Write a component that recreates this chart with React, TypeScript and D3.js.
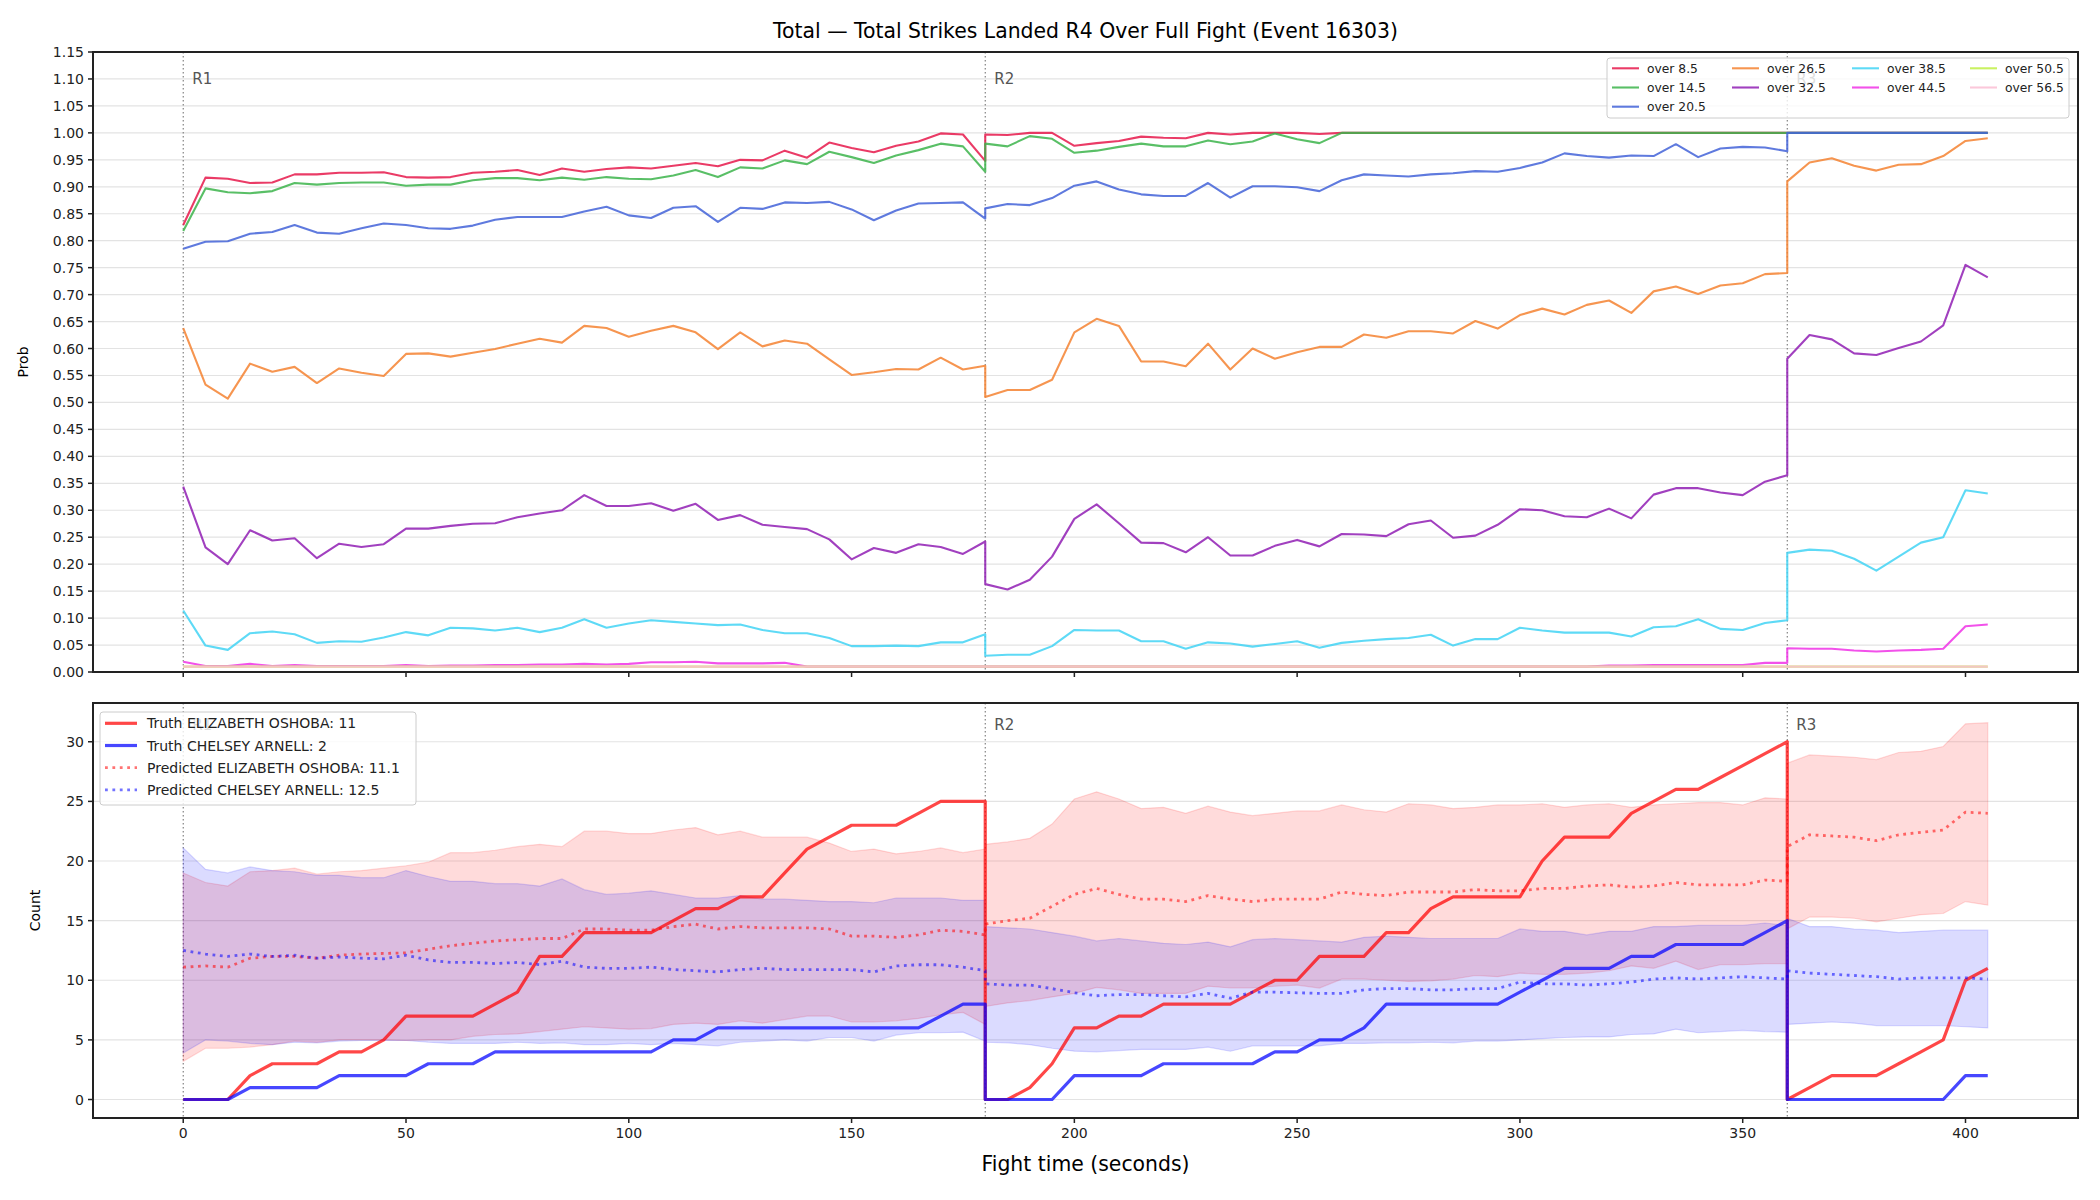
import React, { useEffect, useRef } from "react";
import * as d3 from "d3";

const WIDTH = 2100;
const HEIGHT = 1200;
const FONT = "DejaVu Sans, Verdana, sans-serif";

// rounds are sampled every 5 s; the boundary second appears in both rounds
const ROUNDS = [
  { label: "R1", start: 0, end: 180 },
  { label: "R2", start: 180, end: 360 },
  { label: "R3", start: 360, end: 405 },
];
const STEP = 5;

const xTicks = [0, 50, 100, 150, 200, 250, 300, 350, 400];
const probTicks = [
  0, 0.05, 0.1, 0.15, 0.2, 0.25, 0.3, 0.35, 0.4, 0.45, 0.5, 0.55, 0.6, 0.65,
  0.7, 0.75, 0.8, 0.85, 0.9, 0.95, 1.0, 1.05, 1.1, 1.15,
];
const countTicks = [0, 5, 10, 15, 20, 25, 30];

// over/under probabilities, one array per round
const over8_5 = [
  [0.829, 0.917, 0.915, 0.907, 0.908, 0.923, 0.923, 0.926, 0.926, 0.927, 0.918, 0.917, 0.918, 0.926, 0.928, 0.931, 0.922, 0.934, 0.928, 0.933, 0.936, 0.934, 0.939, 0.944, 0.938, 0.95, 0.949, 0.967, 0.954, 0.982, 0.972, 0.964, 0.976, 0.984, 0.999, 0.997, 0.948],
  [0.997, 0.996, 1.0, 1.0, 0.976, 0.981, 0.985, 0.993, 0.991, 0.99, 1.0, 0.997, 1.0, 1.0, 1.0, 0.998, 1.0, 1.0, 1.0, 1.0, 1.0, 1.0, 1.0, 1.0, 1.0, 1.0, 1.0, 1.0, 1.0, 1.0, 1.0, 1.0, 1.0, 1.0, 1.0, 1.0, 1.0],
  [1.0, 1.0, 1.0, 1.0, 1.0, 1.0, 1.0, 1.0, 1.0, 1.0],
];
const over14_5 = [
  [0.818, 0.897, 0.89, 0.888, 0.892, 0.907, 0.904, 0.907, 0.908, 0.908, 0.902, 0.904, 0.904, 0.912, 0.916, 0.916, 0.912, 0.917, 0.913, 0.918, 0.915, 0.914, 0.921, 0.931, 0.918, 0.936, 0.934, 0.949, 0.942, 0.965, 0.955, 0.944, 0.958, 0.968, 0.98, 0.975, 0.928],
  [0.98, 0.975, 0.994, 0.989, 0.963, 0.967, 0.974, 0.98, 0.975, 0.975, 0.986, 0.979, 0.984, 0.999, 0.988, 0.981, 1.0, 1.0, 1.0, 1.0, 1.0, 1.0, 1.0, 1.0, 1.0, 1.0, 1.0, 1.0, 1.0, 1.0, 1.0, 1.0, 1.0, 1.0, 1.0, 1.0, 1.0],
  [1.0, 1.0, 1.0, 1.0, 1.0, 1.0, 1.0, 1.0, 1.0, 1.0],
];
const over20_5 = [
  [0.785, 0.798, 0.799, 0.813, 0.816, 0.829, 0.815, 0.813, 0.823, 0.832, 0.829, 0.823, 0.822, 0.828, 0.839, 0.844, 0.844, 0.844, 0.854, 0.863, 0.847, 0.842, 0.861, 0.864, 0.835, 0.861, 0.859, 0.871, 0.87, 0.872, 0.858, 0.838, 0.856, 0.869, 0.87, 0.871, 0.841],
  [0.86, 0.868, 0.866, 0.879, 0.902, 0.91, 0.895, 0.886, 0.883, 0.883, 0.907, 0.88, 0.901, 0.901, 0.899, 0.892, 0.912, 0.923, 0.921, 0.919, 0.923, 0.925, 0.929, 0.928, 0.935, 0.945, 0.962, 0.957, 0.954, 0.958, 0.957, 0.979, 0.955, 0.971, 0.974, 0.973, 0.966],
  [1.0, 1.0, 1.0, 1.0, 1.0, 1.0, 1.0, 1.0, 1.0, 1.0],
];
const over26_5 = [
  [0.638, 0.533, 0.507, 0.572, 0.557, 0.566, 0.536, 0.563, 0.555, 0.549, 0.59, 0.591, 0.585, 0.592, 0.599, 0.609, 0.618, 0.611, 0.642, 0.638, 0.622, 0.633, 0.642, 0.63, 0.599, 0.63, 0.604, 0.615, 0.609, 0.58, 0.551, 0.556, 0.562, 0.561, 0.583, 0.561, 0.568],
  [0.51, 0.523, 0.523, 0.542, 0.63, 0.655, 0.642, 0.576, 0.576, 0.567, 0.609, 0.561, 0.6, 0.581, 0.593, 0.603, 0.603, 0.626, 0.62, 0.632, 0.632, 0.628, 0.651, 0.637, 0.662, 0.674, 0.663, 0.681, 0.689, 0.666, 0.706, 0.715, 0.701, 0.717, 0.721, 0.738, 0.74],
  [0.91, 0.945, 0.953, 0.939, 0.93, 0.941, 0.942, 0.957, 0.985, 0.99],
];
const over32_5 = [
  [0.344, 0.231, 0.2, 0.263, 0.244, 0.248, 0.211, 0.238, 0.232, 0.237, 0.266, 0.266, 0.271, 0.275, 0.276, 0.287, 0.294, 0.3, 0.328, 0.308, 0.308, 0.313, 0.299, 0.312, 0.282, 0.291, 0.273, 0.269, 0.265, 0.246, 0.209, 0.23, 0.221, 0.237, 0.232, 0.219, 0.242],
  [0.163, 0.153, 0.171, 0.214, 0.284, 0.311, 0.276, 0.24, 0.239, 0.222, 0.25, 0.216, 0.216, 0.234, 0.245, 0.233, 0.256, 0.255, 0.252, 0.274, 0.281, 0.249, 0.253, 0.273, 0.302, 0.3, 0.289, 0.287, 0.303, 0.285, 0.329, 0.341, 0.341, 0.333, 0.328, 0.353, 0.365],
  [0.581, 0.625, 0.617, 0.591, 0.588, 0.601, 0.613, 0.643, 0.755, 0.732],
];
const over38_5 = [
  [0.114, 0.049, 0.041, 0.072, 0.075, 0.07, 0.054, 0.057, 0.056, 0.064, 0.074, 0.068, 0.082, 0.081, 0.077, 0.082, 0.074, 0.082, 0.098, 0.082, 0.09, 0.096, 0.093, 0.09, 0.087, 0.088, 0.078, 0.072, 0.072, 0.063, 0.048, 0.048, 0.049, 0.048, 0.055, 0.055, 0.07],
  [0.03, 0.032, 0.032, 0.048, 0.078, 0.077, 0.077, 0.057, 0.057, 0.043, 0.055, 0.053, 0.047, 0.052, 0.057, 0.045, 0.054, 0.058, 0.061, 0.063, 0.069, 0.049, 0.061, 0.061, 0.082, 0.077, 0.073, 0.073, 0.073, 0.066, 0.083, 0.085, 0.098, 0.08, 0.078, 0.091, 0.096],
  [0.221, 0.227, 0.225, 0.21, 0.188, 0.214, 0.24, 0.25, 0.337, 0.331],
];
const over44_5 = [
  [0.019, 0.011, 0.011, 0.015, 0.011, 0.013, 0.011, 0.011, 0.011, 0.011, 0.013, 0.011, 0.012, 0.012, 0.013, 0.013, 0.014, 0.014, 0.015, 0.014, 0.015, 0.018, 0.018, 0.019, 0.016, 0.016, 0.016, 0.017, 0.01, 0.01, 0.01, 0.01, 0.01, 0.01, 0.01, 0.01, 0.01],
  [0.01, 0.01, 0.01, 0.01, 0.01, 0.01, 0.01, 0.01, 0.01, 0.01, 0.01, 0.01, 0.01, 0.01, 0.01, 0.01, 0.01, 0.01, 0.01, 0.01, 0.01, 0.01, 0.01, 0.01, 0.01, 0.01, 0.01, 0.01, 0.012, 0.012, 0.013, 0.013, 0.013, 0.013, 0.013, 0.017, 0.017],
  [0.044, 0.043, 0.043, 0.04, 0.038, 0.04, 0.041, 0.043, 0.085, 0.088],
];
const over50_5 = [
  [0.01, 0.01, 0.01, 0.01, 0.01, 0.01, 0.01, 0.01, 0.01, 0.01, 0.01, 0.01, 0.01, 0.01, 0.01, 0.01, 0.01, 0.01, 0.01, 0.01, 0.01, 0.01, 0.01, 0.01, 0.01, 0.01, 0.01, 0.01, 0.01, 0.01, 0.01, 0.01, 0.01, 0.01, 0.01, 0.01, 0.01],
  [0.01, 0.01, 0.01, 0.01, 0.01, 0.01, 0.01, 0.01, 0.01, 0.01, 0.01, 0.01, 0.01, 0.01, 0.01, 0.01, 0.01, 0.01, 0.01, 0.01, 0.01, 0.01, 0.01, 0.01, 0.01, 0.01, 0.01, 0.01, 0.01, 0.01, 0.01, 0.01, 0.01, 0.01, 0.01, 0.01, 0.01],
  [0.01, 0.01, 0.01, 0.01, 0.01, 0.01, 0.01, 0.01, 0.01, 0.01],
];
const over56_5 = [
  [0.01, 0.01, 0.01, 0.01, 0.01, 0.01, 0.01, 0.01, 0.01, 0.01, 0.01, 0.01, 0.01, 0.01, 0.01, 0.01, 0.01, 0.01, 0.01, 0.01, 0.01, 0.01, 0.01, 0.01, 0.01, 0.01, 0.01, 0.01, 0.01, 0.01, 0.01, 0.01, 0.01, 0.01, 0.01, 0.01, 0.01],
  [0.01, 0.01, 0.01, 0.01, 0.01, 0.01, 0.01, 0.01, 0.01, 0.01, 0.01, 0.01, 0.01, 0.01, 0.01, 0.01, 0.01, 0.01, 0.01, 0.01, 0.01, 0.01, 0.01, 0.01, 0.01, 0.01, 0.01, 0.01, 0.01, 0.01, 0.01, 0.01, 0.01, 0.01, 0.01, 0.01, 0.01],
  [0.01, 0.01, 0.01, 0.01, 0.01, 0.01, 0.01, 0.01, 0.01, 0.01],
];

// cumulative strikes landed
const truthOshoba = [
  [0, 0, 0, 2, 3, 3, 3, 4, 4, 5, 7, 7, 7, 7, 8, 9, 12, 12, 14, 14, 14, 14, 15, 16, 16, 17, 17, 19, 21, 22, 23, 23, 23, 24, 25, 25, 25],
  [0, 0, 1, 3, 6, 6, 7, 7, 8, 8, 8, 8, 9, 10, 10, 12, 12, 12, 14, 14, 16, 17, 17, 17, 17, 20, 22, 22, 22, 24, 25, 26, 26, 27, 28, 29, 30],
  [0, 1, 2, 2, 2, 3, 4, 5, 10, 11],
];
const truthArnell = [
  [0, 0, 0, 1, 1, 1, 1, 2, 2, 2, 2, 3, 3, 3, 4, 4, 4, 4, 4, 4, 4, 4, 5, 5, 6, 6, 6, 6, 6, 6, 6, 6, 6, 6, 7, 8, 8],
  [0, 0, 0, 0, 2, 2, 2, 2, 3, 3, 3, 3, 3, 4, 4, 5, 5, 6, 8, 8, 8, 8, 8, 8, 9, 10, 11, 11, 11, 12, 12, 13, 13, 13, 13, 14, 15],
  [0, 0, 0, 0, 0, 0, 0, 0, 2, 2],
];
const predOshoba = [
  [11.1, 11.2, 11.1, 11.85, 12.0, 12.0, 11.85, 12.1, 12.2, 12.25, 12.3, 12.6, 12.9, 13.1, 13.3, 13.4, 13.5, 13.5, 14.3, 14.3, 14.2, 14.2, 14.5, 14.7, 14.3, 14.5, 14.4, 14.4, 14.4, 14.3, 13.7, 13.7, 13.6, 13.8, 14.2, 14.1, 13.8],
  [14.7, 15.0, 15.2, 16.2, 17.2, 17.7, 17.2, 16.8, 16.8, 16.6, 17.1, 16.8, 16.6, 16.8, 16.8, 16.8, 17.4, 17.2, 17.1, 17.4, 17.4, 17.4, 17.6, 17.5, 17.5, 17.7, 17.7, 17.9, 18.0, 17.8, 17.9, 18.2, 18.0, 18.0, 18.0, 18.4, 18.3],
  [21.2, 22.2, 22.1, 22.0, 21.7, 22.2, 22.4, 22.6, 24.1, 24.0],
];
const predArnell = [
  [12.5, 12.2, 12.0, 12.2, 12.0, 12.1, 11.85, 11.95, 11.85, 11.8, 12.1, 11.7, 11.5, 11.5, 11.4, 11.5, 11.3, 11.6, 11.1, 11.0, 11.0, 11.1, 10.9, 10.8, 10.7, 10.9, 11.0, 10.9, 10.9, 10.9, 10.9, 10.7, 11.2, 11.3, 11.3, 11.1, 10.8],
  [9.7, 9.6, 9.6, 9.3, 8.95, 8.7, 8.8, 8.8, 8.7, 8.6, 8.9, 8.5, 9.0, 9.0, 8.95, 8.9, 8.9, 9.2, 9.3, 9.3, 9.2, 9.2, 9.3, 9.3, 9.85, 9.7, 9.7, 9.6, 9.7, 9.85, 10.1, 10.2, 10.1, 10.2, 10.3, 10.2, 10.1],
  [10.8, 10.6, 10.5, 10.4, 10.3, 10.1, 10.2, 10.2, 10.2, 10.1],
];
const oshobaUpper = [
  [19.0, 18.2, 17.9, 19.1, 19.2, 19.4, 18.9, 19.1, 19.2, 19.4, 19.6, 19.9, 20.7, 20.7, 20.9, 21.2, 21.4, 21.2, 22.5, 22.5, 22.3, 22.3, 22.6, 22.8, 22.2, 22.5, 22.0, 22.0, 22.0, 21.5, 20.8, 21.0, 20.6, 20.8, 21.1, 20.7, 21.0],
  [21.4, 21.6, 21.9, 23.1, 25.2, 25.8, 25.2, 24.4, 24.5, 24.0, 24.6, 24.1, 23.8, 24.0, 24.2, 24.2, 24.7, 24.3, 24.1, 24.8, 24.7, 24.4, 24.5, 24.7, 24.7, 24.8, 24.5, 24.7, 24.8, 24.5, 24.7, 24.8, 24.9, 24.9, 24.7, 25.3, 25.2],
  [28.2, 28.9, 28.8, 28.7, 28.5, 29.1, 29.2, 29.6, 31.5, 31.6],
];
const oshobaLower = [
  [3.2, 4.3, 4.3, 4.4, 4.6, 4.9, 4.8, 5.0, 5.0, 5.0, 4.95, 5.0, 5.0, 5.3, 5.45, 5.5, 5.7, 5.9, 6.1, 6.0, 5.9, 5.95, 6.3, 6.4, 6.3, 6.6, 6.4, 6.7, 7.0, 7.0, 6.5, 6.5, 6.6, 6.8, 7.1, 7.3, 6.3],
  [7.8, 8.1, 8.3, 8.6, 8.9, 9.4, 9.2, 8.9, 8.9, 8.9, 9.5, 9.35, 9.35, 9.5, 9.6, 9.35, 10.1, 10.1, 10.0, 9.9, 9.95, 10.1, 10.4, 10.3, 10.6, 10.5, 10.5, 10.6, 10.8, 11.2, 11.0, 11.6, 10.9, 11.3, 11.3, 11.4, 11.4],
  [14.3, 15.3, 15.3, 15.2, 14.9, 15.2, 15.5, 15.6, 16.6, 16.3],
];
const arnellUpper = [
  [21.1, 19.3, 19.0, 19.5, 19.2, 19.1, 18.8, 18.8, 18.6, 18.6, 19.2, 18.7, 18.3, 18.3, 18.1, 18.1, 17.9, 18.5, 17.6, 17.2, 17.3, 17.5, 17.2, 16.9, 16.9, 17.1, 16.8, 16.8, 16.7, 16.6, 16.6, 16.5, 16.9, 16.9, 16.9, 16.7, 16.7],
  [14.5, 14.4, 14.3, 14.0, 13.7, 13.3, 13.5, 13.3, 13.1, 13.0, 13.2, 12.8, 13.4, 13.5, 13.4, 13.3, 13.2, 13.6, 13.7, 13.6, 13.5, 13.5, 13.5, 13.5, 14.3, 14.1, 14.1, 13.8, 14.1, 14.1, 14.5, 14.5, 14.6, 14.6, 14.6, 14.8, 14.6],
  [15.2, 14.5, 14.5, 14.3, 14.2, 14.0, 14.1, 14.2, 14.2, 14.2],
];
const arnellLower = [
  [3.9, 5.0, 4.9, 4.7, 4.6, 4.8, 4.75, 4.9, 4.95, 4.95, 4.95, 4.8, 4.7, 4.7, 4.7, 4.8, 4.7, 4.75, 4.6, 4.6, 4.7, 4.6, 4.7, 4.6, 4.5, 4.8, 4.9, 5.0, 4.9, 5.2, 5.2, 4.9, 5.4, 5.6, 5.6, 5.65, 4.9],
  [4.8, 4.75, 4.6, 4.3, 4.05, 4.0, 4.1, 4.2, 4.2, 4.2, 4.4, 4.05, 4.5, 4.5, 4.5, 4.5, 4.7, 4.7, 4.75, 4.75, 4.8, 4.75, 4.9, 4.9, 5.0, 5.1, 5.2, 5.25, 5.25, 5.45, 5.5, 5.9, 5.6, 5.7, 5.8, 5.7, 5.65],
  [6.3, 6.4, 6.5, 6.4, 6.2, 6.2, 6.2, 6.2, 6.1, 6.0],
];

const probLines = [
  { label: "over 8.5", color: "#e6194b", rounds: over8_5 },
  { label: "over 14.5", color: "#3cb44b", rounds: over14_5 },
  { label: "over 20.5", color: "#4363d8", rounds: over20_5 },
  { label: "over 26.5", color: "#f58231", rounds: over26_5 },
  { label: "over 32.5", color: "#911eb4", rounds: over32_5 },
  { label: "over 38.5", color: "#42d4f4", rounds: over38_5 },
  { label: "over 44.5", color: "#f032e6", rounds: over44_5 },
  { label: "over 50.5", color: "#bfef45", rounds: over50_5 },
  { label: "over 56.5", color: "#fabed4", rounds: over56_5 },
];

const times = ROUNDS.flatMap((r) => d3.range(r.start, r.end + STEP / 2, STEP));

// layout
const AX_LEFT = 93;
const AX_RIGHT = 2078;
const TOP = { top: 52, bottom: 672 };
const BOT = { top: 703, bottom: 1118 };

export default function App() {
  const svgRef = useRef<SVGSVGElement>(null);

  useEffect(() => {
    document.body.style.margin = "0";
    if (!svgRef.current) return;
    const svg = d3.select(svgRef.current);
    svg.selectAll("*").remove();

    const x = d3.scaleLinear().domain([-20.25, 425.25]).range([AX_LEFT, AX_RIGHT]);
    const yProb = d3.scaleLinear().domain([0, 1.15]).range([TOP.bottom, TOP.top]);
    const yCount = d3.scaleLinear().domain([-1.55, 33.25]).range([BOT.bottom, BOT.top]);

    svg.append("rect").attr("width", WIDTH).attr("height", HEIGHT).attr("fill", "#fff");

    // Title
    svg
      .append("text")
      .attr("x", (AX_LEFT + AX_RIGHT) / 2)
      .attr("y", 38)
      .attr("text-anchor", "middle")
      .attr("font-family", FONT)
      .attr("font-size", 20.4)
      .attr("fill", "#000")
      .text("Total \u2014 Total Strikes Landed R4 Over Full Fight (Event 16303)");

    const drawPanel = (
      box: { top: number; bottom: number },
      y: d3.ScaleLinear<number, number>,
      ticks: number[],
      fmt: (v: number) => string,
      xLabels: boolean,
      clipId: string
    ) => {
      const g = svg.append("g");
      // grid
      g.selectAll(".grid")
        .data(ticks)
        .enter()
        .append("line")
        .attr("x1", AX_LEFT)
        .attr("x2", AX_RIGHT)
        .attr("y1", (d) => y(d))
        .attr("y2", (d) => y(d))
        .attr("stroke", "#e3e3e3")
        .attr("stroke-width", 1.2);

      svg
        .append("clipPath")
        .attr("id", clipId)
        .append("rect")
        .attr("x", AX_LEFT)
        .attr("y", box.top)
        .attr("width", AX_RIGHT - AX_LEFT)
        .attr("height", box.bottom - box.top);

      // round markers
      ROUNDS.forEach((r) => {
        g.append("line")
          .attr("x1", x(r.start))
          .attr("x2", x(r.start))
          .attr("y1", box.top)
          .attr("y2", box.bottom)
          .attr("stroke", "#777")
          .attr("stroke-width", 1.1)
          .attr("stroke-dasharray", "1.5,2.5");
      });

      // y ticks
      const yt = g.append("g");
      ticks.forEach((t) => {
        yt.append("line")
          .attr("x1", AX_LEFT - 5)
          .attr("x2", AX_LEFT)
          .attr("y1", y(t))
          .attr("y2", y(t))
          .attr("stroke", "#222")
          .attr("stroke-width", 1.5);
        yt.append("text")
          .attr("x", AX_LEFT - 9)
          .attr("y", y(t) + 5)
          .attr("text-anchor", "end")
          .attr("font-family", FONT)
          .attr("font-size", 14)
          .attr("fill", "#222")
          .text(fmt(t));
      });
      // x ticks
      xTicks.forEach((t) => {
        g.append("line")
          .attr("x1", x(t))
          .attr("x2", x(t))
          .attr("y1", box.bottom)
          .attr("y2", box.bottom + 5)
          .attr("stroke", "#222")
          .attr("stroke-width", 1.5);
        if (xLabels) {
          g.append("text")
            .attr("x", x(t))
            .attr("y", box.bottom + 20)
            .attr("text-anchor", "middle")
            .attr("font-family", FONT)
            .attr("font-size", 14)
            .attr("fill", "#222")
            .text(String(t));
        }
      });
      return g;
    };

    const drawFrame = (box: { top: number; bottom: number }) => {
      svg
        .append("rect")
        .attr("x", AX_LEFT)
        .attr("y", box.top)
        .attr("width", AX_RIGHT - AX_LEFT)
        .attr("height", box.bottom - box.top)
        .attr("fill", "none")
        .attr("stroke", "#222")
        .attr("stroke-width", 2);
    };

    const roundLabel = (g: any, label: string, start: number, yBase: number) => {
      g.append("text")
        .attr("x", x(start) + 9)
        .attr("y", yBase)
        .attr("font-family", FONT)
        .attr("font-size", 15)
        .attr("fill", "#555")
        .text(label);
    };

    // ---------- top panel: probabilities ----------
    const top = drawPanel(TOP, yProb, probTicks, (v) => v.toFixed(2), false, "clip-top");
    ROUNDS.forEach((r) => roundLabel(top, r.label, r.start, TOP.top + 32));

    const probLine = d3
      .line<number>()
      .x((_, i) => x(times[i]))
      .y((d) => yProb(d));

    const topData = top.append("g").attr("clip-path", "url(#clip-top)");
    probLines.forEach((s) => {
      topData
        .append("path")
        .datum(s.rounds.flat())
        .attr("fill", "none")
        .attr("stroke", s.color)
        .attr("stroke-opacity", 0.85)
        .attr("stroke-width", 2.1)
        .attr("stroke-linejoin", "round")
        .attr("d", probLine);
    });

    svg
      .append("text")
      .attr("transform", `translate(28,${(TOP.top + TOP.bottom) / 2}) rotate(-90)`)
      .attr("text-anchor", "middle")
      .attr("font-family", FONT)
      .attr("font-size", 14)
      .attr("fill", "#000")
      .text("Prob");

    // legend, 4 columns filled column-wise
    const legTop = svg.append("g");
    legTop
      .append("rect")
      .attr("x", 1607)
      .attr("y", 58)
      .attr("width", 462)
      .attr("height", 60)
      .attr("rx", 3)
      .attr("fill", "#fff")
      .attr("fill-opacity", 0.8)
      .attr("stroke", "#cccccc")
      .attr("stroke-width", 1);
    const colX = [1612, 1732, 1852, 1970];
    const colItems = [probLines.slice(0, 3), probLines.slice(3, 5), probLines.slice(5, 7), probLines.slice(7, 9)];
    colItems.forEach((items, c) => {
      items.forEach((s, r) => {
        const cy = 68.3 + r * 19.2;
        legTop
          .append("line")
          .attr("x1", colX[c])
          .attr("x2", colX[c] + 27)
          .attr("y1", cy)
          .attr("y2", cy)
          .attr("stroke", s.color)
          .attr("stroke-opacity", 0.85)
          .attr("stroke-width", 2.1);
        legTop
          .append("text")
          .attr("x", colX[c] + 35)
          .attr("y", cy + 4.4)
          .attr("font-family", FONT)
          .attr("font-size", 12.3)
          .attr("fill", "#222")
          .text(s.label);
      });
    });
    drawFrame(TOP);

    // ---------- bottom panel: counts ----------
    const bot = drawPanel(BOT, yCount, countTicks, (v) => String(v), true, "clip-bot");
    ROUNDS.forEach((r) => roundLabel(bot, r.label, r.start, BOT.top + 27));

    const botData = bot.append("g").attr("clip-path", "url(#clip-bot)");
    const band = (upper: number[][], lower: number[][], color: string) => {
      const lo = lower.flat();
      const area = d3
        .area<number>()
        .x((_, i) => x(times[i]))
        .y0((_, i) => yCount(lo[i]))
        .y1((d) => yCount(d));
      botData
        .append("path")
        .datum(upper.flat())
        .attr("fill", color)
        .attr("fill-opacity", 0.14)
        .attr("stroke", color)
        .attr("stroke-opacity", 0.14)
        .attr("stroke-width", 1.2)
        .attr("d", area);
    };
    band(oshobaUpper, oshobaLower, "#ff0000");
    band(arnellUpper, arnellLower, "#0000ff");

    const countLine = d3
      .line<number>()
      .x((_, i) => x(times[i]))
      .y((d) => yCount(d));

    const bottomSeries = [
      { label: "Truth ELIZABETH OSHOBA: 11", color: "#ff0000", rounds: truthOshoba, dotted: false },
      { label: "Truth CHELSEY ARNELL: 2", color: "#0000ff", rounds: truthArnell, dotted: false },
      { label: "Predicted ELIZABETH OSHOBA: 11.1", color: "#ff0000", rounds: predOshoba, dotted: true },
      { label: "Predicted CHELSEY ARNELL: 12.5", color: "#0000ff", rounds: predArnell, dotted: true },
    ];
    bottomSeries.forEach((s) => {
      botData
        .append("path")
        .datum(s.rounds.flat())
        .attr("fill", "none")
        .attr("stroke", s.color)
        .attr("stroke-opacity", s.dotted ? 0.55 : 0.72)
        .attr("stroke-width", s.dotted ? 2.8 : 3.2)
        .attr("stroke-dasharray", s.dotted ? "2.8,4.6" : null)
        .attr("stroke-linejoin", "round")
        .attr("d", countLine);
    });

    svg
      .append("text")
      .attr("transform", `translate(40,${(BOT.top + BOT.bottom) / 2}) rotate(-90)`)
      .attr("text-anchor", "middle")
      .attr("font-family", FONT)
      .attr("font-size", 14)
      .attr("fill", "#000")
      .text("Count");

    svg
      .append("text")
      .attr("x", (AX_LEFT + AX_RIGHT) / 2)
      .attr("y", 1171)
      .attr("text-anchor", "middle")
      .attr("font-family", FONT)
      .attr("font-size", 20.4)
      .attr("fill", "#000")
      .text("Fight time (seconds)");

    const legBot = svg.append("g");
    legBot
      .append("rect")
      .attr("x", 100)
      .attr("y", 712)
      .attr("width", 316)
      .attr("height", 93)
      .attr("rx", 3)
      .attr("fill", "#fff")
      .attr("fill-opacity", 0.8)
      .attr("stroke", "#cccccc")
      .attr("stroke-width", 1);
    bottomSeries.forEach((s, i) => {
      const cy = 723.3 + i * 22.2;
      legBot
        .append("line")
        .attr("x1", 105)
        .attr("x2", 137)
        .attr("y1", cy)
        .attr("y2", cy)
        .attr("stroke", s.color)
        .attr("stroke-opacity", s.dotted ? 0.55 : 0.72)
        .attr("stroke-width", s.dotted ? 2.8 : 3.2)
        .attr("stroke-dasharray", s.dotted ? "2.8,4.6" : null);
      legBot
        .append("text")
        .attr("x", 147)
        .attr("y", cy + 5)
        .attr("font-family", FONT)
        .attr("font-size", 14)
        .attr("fill", "#222")
        .text(s.label);
    });
    drawFrame(BOT);
  }, []);

  return (
    <svg
      ref={svgRef}
      width={WIDTH}
      height={HEIGHT}
      style={{ display: "block", background: "#fff" }}
    />
  );
}
